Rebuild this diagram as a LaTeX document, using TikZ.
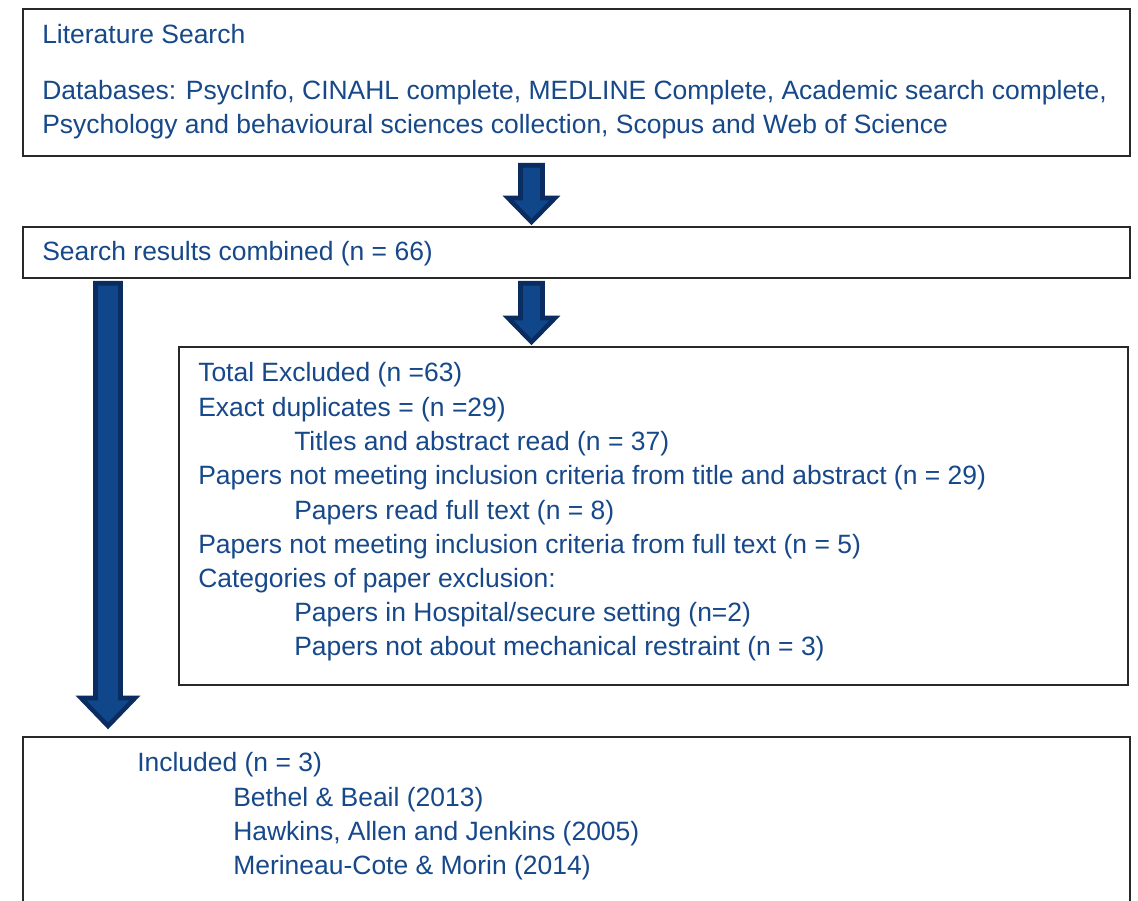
\documentclass[tikz,border=0pt]{standalone}
\usepackage{fontspec}
\setmainfont{Liberation Sans}
\usetikzlibrary{calc}
\definecolor{txtblue}{RGB}{22,72,138}
\definecolor{arrfill}{RGB}{16,70,138}
\definecolor{arredge}{RGB}{10,44,96}
\definecolor{boxedge}{RGB}{40,40,40}
\tikzset{
  panel/.style={draw=boxedge, line width=1.3pt, fill=white, inner sep=0pt},
  line/.style={anchor=base west, inner sep=0pt, text=txtblue,
    font=\fontsize{19.85pt}{25.7pt}\selectfont},
  fat/.style={fill=arrfill, draw=arredge, line width=3.4pt, line join=miter}
}
% block arrow: from coordinate #1 (top centre) to #2 (tip);
% #3 half shaft width, #4 half head width, #5 head length
\newcommand\blockarrow[5]{%
  \draw[fat] ($(#1)+(-#3,0)$) -- ($(#2)+(-#3,-#5)$) -- ($(#2)+(-#4,-#5)$)
    -- (#2) -- ($(#2)+(#4,-#5)$) -- ($(#2)+(#3,-#5)$) -- ($(#1)+(#3,0)$) -- cycle;}
\begin{document}
\begin{tikzpicture}[x=0.75pt,y=-0.75pt]
\useasboundingbox (0,0) rectangle (1138,900);
\clip (0,0) rectangle (1138,900);
\fill[white] (0,0) rectangle (1138,900);

% boxes
\node[panel, anchor=north west, minimum width=1107*0.75pt, minimum height=147*0.75pt] (search) at (22,8) {};
\node[panel, anchor=north west, minimum width=1107*0.75pt, minimum height=51*0.75pt] (combined) at (22,226) {};
\node[panel, anchor=north west, minimum width=949*0.75pt, minimum height=338*0.75pt] (excluded) at (178,346) {};
\node[panel, anchor=north west, minimum width=1107*0.75pt, minimum height=200*0.75pt] (included) at (22,736) {};

% literature search
\node[line] (ls1) at (42,43) {Literature Search};
\node[line] (ls2) at (42,99) {Databases: PsycInfo, CINAHL complete, MEDLINE Complete, Academic search complete,};
\node[line] (ls3) at (42,133) {Psychology and behavioural sciences collection, Scopus and Web of Science};

% combined
\node[line] (cb1) at (42,260) {Search results combined (n = 66)};

% exclusions
\node[line] (ex1) at (198,381) {Total Excluded (n =63)};
\node[line] (ex2) at (198,416) {Exact duplicates = (n =29)};
\node[line] (ex3) at (294,450) {Titles and abstract read (n = 37)};
\node[line] (ex4) at (198,484) {Papers not meeting inclusion criteria from title and abstract (n = 29)};
\node[line] (ex5) at (294,519) {Papers read full text (n = 8)};
\node[line] (ex6) at (198,553) {Papers not meeting inclusion criteria from full text (n = 5)};
\node[line] (ex7) at (198,587) {Categories of paper exclusion:};
\node[line] (ex8) at (294,621) {Papers in Hospital/secure setting (n=2)};
\node[line] (ex9) at (294,655) {Papers not about mechanical restraint (n = 3)};

% included
\node[line] (in1) at (137,771) {Included (n = 3)};
\node[line] (in2) at (233,806) {Bethel \& Beail (2013)};
\node[line] (in3) at (233,840) {Hawkins, Allen and Jenkins (2005)};
\node[line] (in4) at (233,874) {Merineau-Cote \& Morin (2014)};

% connectors
\coordinate (a1s) at ($(search.south west)+(509.5,8.5)$);
\coordinate (a1e) at ($(combined.north west)+(509.5,-4)$);
\blockarrow{a1s}{a1e}{11}{23.5}{24}
\coordinate (a2s) at ($(combined.south west)+(509.5,4.5)$);
\coordinate (a2e) at ($(excluded.north west)+(353.5,-4)$);
\blockarrow{a2s}{a2e}{11}{23.5}{24}
\coordinate (a3s) at ($(combined.south west)+(86,4.5)$);
\coordinate (a3e) at ($(included.north west)+(86,-10)$);
\blockarrow{a3s}{a3e}{12.5}{27}{28}
\end{tikzpicture}
\end{document}
